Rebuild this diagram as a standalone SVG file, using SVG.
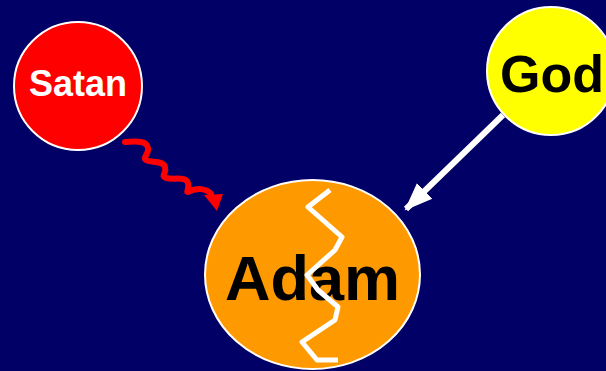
<svg xmlns="http://www.w3.org/2000/svg" width="606" height="371" viewBox="0 0 606 371">
<style>
.node{stroke:#ffffff;stroke-width:2}
.lbl{font-family:"Liberation Sans",Arial,sans-serif;font-weight:bold;text-anchor:middle}
</style>
<defs>
<marker id="wh" markerUnits="userSpaceOnUse" markerWidth="30" markerHeight="30" viewBox="0 0 30 30" refX="26" refY="15" orient="auto">
<path d="M0,4 L28,15 L0,26 Z" fill="#ffffff"/>
</marker>
</defs>
<rect width="606" height="371" fill="#000066"/>
<g id="satan">
<circle class="node" cx="78" cy="86" r="64" fill="#ff0000"/>
<text class="lbl" x="78" y="96" font-size="36" fill="#ffffff">Satan</text>
</g>
<g id="god">
<circle class="node" cx="551" cy="71" r="64" fill="#ffff00"/>
<text class="lbl" x="552" y="92" font-size="52" fill="#000000">God</text>
</g>
<g id="adam">
<ellipse class="node" cx="312.5" cy="274.5" rx="107.5" ry="94.5" fill="#ff9900"/>
<text class="lbl" x="312.5" y="300" font-size="63" fill="#000000">Adam</text>
<polyline points="330,190 308,207 342,237 335,250 307,275 318,290 338,307 335,320 302,342 317,360 338,360" fill="none" stroke="#ffffff" stroke-width="5" stroke-linejoin="round" stroke-linecap="butt"/>
</g>
<g id="connectors">
<line x1="503" y1="115" x2="406" y2="209" stroke="#ffffff" stroke-width="6" marker-end="url(#wh)"/>
<path d="M125,142 C138,141 147,141 148,148 C149,155 142,157 146,160 C151,163 163,160 165,167 C167,174 160,176 166,178 C175,180 186,176 188,183 C190,190 184,194 190,191 C197,188 206,188 211,194" fill="none" stroke="#ff0000" stroke-width="6" stroke-linecap="round"/>
<path d="M204,195 L223,194 L217,211 Z" fill="#ff0000"/>
</g>
</svg>
